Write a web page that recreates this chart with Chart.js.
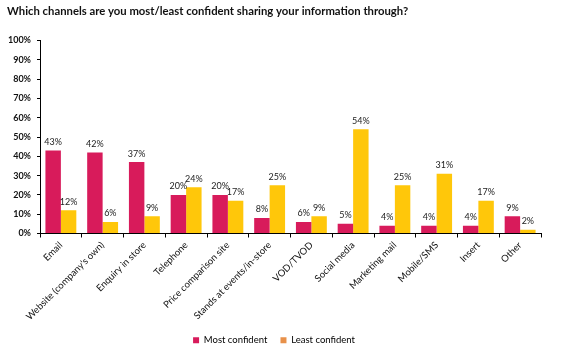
<!DOCTYPE html>
<html>
<head>
<meta charset="utf-8">
<script src="https://cdn.jsdelivr.net/npm/chart.js@4"></script>
<style>
  html, body { margin: 0; padding: 0; background: #fff; }
  #wrap { width: 568px; height: 349px; }
</style>
</head>
<body>
<div id="wrap"><canvas id="myChart" width="568" height="349"></canvas></div>
<script>
const channels = ['Email', "Website (company's own)", 'Enquiry in store', 'Telephone', 'Price comparison site',
  'Stands at events/in-store', 'VOD/TVOD', 'Social media', 'Marketing mail', 'Mobile/SMS', 'Insert', 'Other'];
const mostConfident = [43, 42, 37, 20, 20, 8, 6, 5, 4, 4, 4, 9];
const leastConfident = [12, 6, 9, 24, 17, 25, 9, 54, 25, 31, 17, 2];
const yTicks = [0, 10, 20, 30, 40, 50, 60, 70, 80, 90, 100];

const FONT = 'Lato, "Open Sans", sans-serif';

// draws the % label above every bar
const barLabels = {
  id: 'barLabels',
  afterDatasetsDraw(chart) {
    const c = chart.ctx;
    c.save();
    c.font = '9px ' + FONT;
    c.fillStyle = '#222';
    c.textAlign = 'center';
    c.textBaseline = 'bottom';
    chart.data.datasets.forEach((ds, i) => {
      chart.getDatasetMeta(i).data.forEach((bar, j) => {
        c.fillText(ds.data[j] + '%', bar.x, bar.y - 4);
      });
    });
    c.restore();
  }
};

new Chart(document.getElementById('myChart'), {
  type: 'bar',
  data: {
    labels: channels,
    datasets: [
      { label: 'Most confident', data: mostConfident, backgroundColor: '#D81B5B', legendColor: '#D81B5B' },
      { label: 'Least confident', data: leastConfident, backgroundColor: '#FFC70A', legendColor: '#E8914A' }
    ]
  },
  options: {
    responsive: false,
    animation: false,
    layout: { padding: { left: 7, right: 27, top: 0, bottom: -6 } },
    datasets: { bar: { categoryPercentage: 0.74, barPercentage: 1.0 } },
    plugins: {
      title: {
        display: true,
        text: 'Which channels are you most/least confident sharing your information through?',
        align: 'start',
        color: '#111',
        font: { family: FONT, size: 11.3, weight: 'bold' },
        padding: { top: 5, bottom: 22 }
      },
      legend: {
        position: 'bottom',
        labels: {
          color: '#111',
          font: { family: FONT, size: 9.5 },
          boxWidth: 6,
          boxHeight: 6,
          padding: 1,
          generateLabels(chart) {
            return chart.data.datasets.map((ds, i) => ({
              text: i === 0 ? ds.label + '     ' : ds.label,
              fillStyle: ds.legendColor,
              strokeStyle: ds.legendColor,
              lineWidth: 0,
              datasetIndex: i
            }));
          }
        }
      },
      tooltip: { enabled: false }
    },
    scales: {
      x: {
        grid: { display: true, drawOnChartArea: false, drawTicks: true, tickLength: 4, color: '#000' },
        border: { color: '#000', width: 1 },
        ticks: {
          color: '#111',
          font: { family: FONT, size: 9.5 },
          maxRotation: 45,
          minRotation: 45,
          padding: 2
        },
        afterFit(scale) { scale.height = 101; }
      },
      y: {
        min: 0,
        max: 100,
        afterBuildTicks(scale) { scale.ticks = yTicks.map(v => ({ value: v })); },
        grid: { display: true, drawOnChartArea: false, drawTicks: true, tickLength: 3, color: '#000' },
        border: { color: '#000', width: 1 },
        ticks: {
          color: '#111',
          font: { family: FONT, size: 9, weight: 'bold' },
          padding: 6,
          callback: v => v + '%'
        },
        afterFit(scale) { scale.width = 33; }
      }
    }
  },
  plugins: [barLabels]
});
</script>
</body>
</html>
